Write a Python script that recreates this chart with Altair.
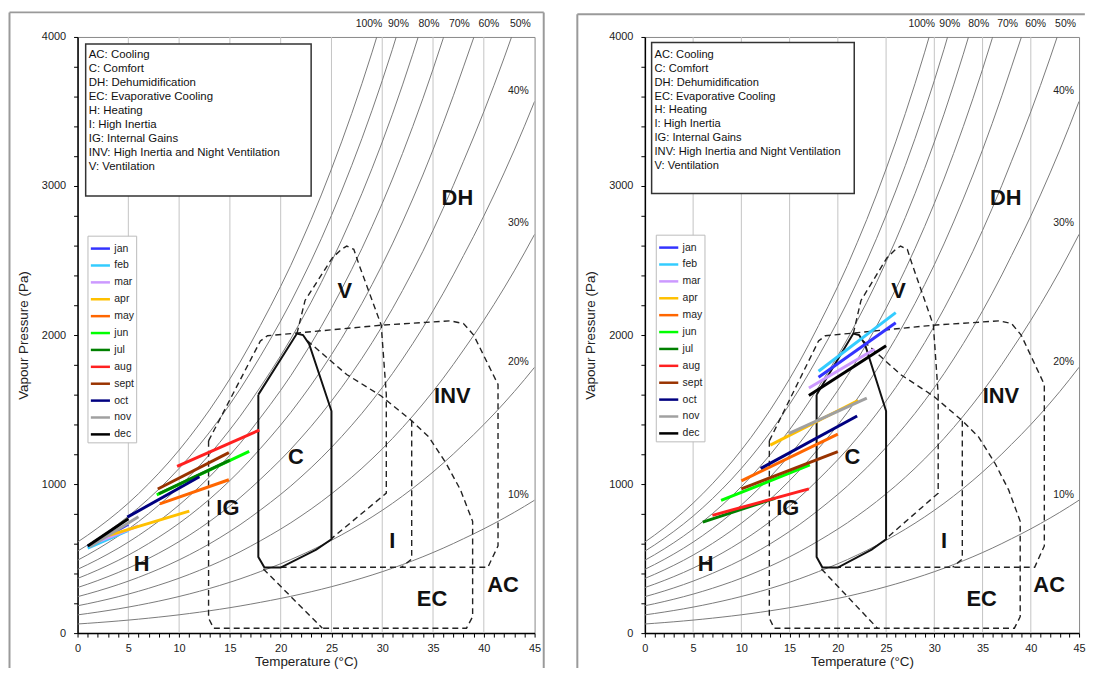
import altair as alt
import pandas as pd

FONT = "Liberation Sans"

# 100% curve (vapour pressure at saturation, Pa) as drawn on the chart, per degC
SAT_T = list(range(0, 46))
SAT_P = [611, 657, 706, 758, 813, 872, 935, 1002, 1073, 1148, 1228, 1313, 1403, 1498,
         1599, 1706, 1818, 1938, 2064, 2193, 2327, 2468, 2619, 2775, 2940, 3114, 3296,
         3487, 3687, 3898, 4119, 4352, 4598, 4855, 5123, 5405, 5700, 6009, 6332, 6657,
         6996, 7350, 7719, 8102, 8503, 8919]
RH_LEVELS = [10, 20, 30, 40, 50, 60, 70, 80, 90, 100]
GRID_T = [5, 10, 15, 20, 25, 30, 35, 40]

# RH labels
TOP_LABELS = ["100%", "90%", "80%", "70%", "60%", "50%"]
TOP_LABEL_T = [28.7, 31.6, 34.6, 37.6, 40.5, 43.6]
TOP_LABEL_P = [4084, 4084, 4084, 4084, 4084, 4084]
SIDE_LABELS = ["40%", "30%", "20%", "10%"]
SIDE_LABEL_T = [43.4, 43.4, 43.4, 43.4]
SIDE_LABEL_P = [3640, 2750, 1820, 925]

# zone labels
ZONE_NAMES = ["DH", "V", "INV", "C", "IG", "I", "H", "EC", "AC"]
ZONE_T = [37.4, 26.3, 36.9, 21.5, 14.8, 31.0, 6.3, 34.9, 41.9]
ZONE_P = [2920, 2292, 1590, 1180, 836, 620, 463, 228, 320]

DESCRIPTIONS = ["AC: Cooling", "C: Comfort", "DH: Dehumidification", "EC: Evaporative Cooling",
                "H: Heating", "I: High Inertia", "IG: Internal Gains",
                "INV: High Inertia and Night Ventilation", "V: Ventilation"]

# comfort zone (solid)
C_T = [17.8, 21.6, 22.2, 22.8, 25.0, 25.0, 23.5, 20.0, 18.4, 17.8, 17.8]
C_P = [1600, 2010, 2000, 1940, 1490, 630, 560, 440, 440, 510, 1600]

# dashed zone boundaries
PATH1_T = [12.9, 18.0, 18.7, 29.9, 36.7, 38.0, 39.0, 41.4, 41.4, 40.4, 20.0]
PATH1_P = [1290, 1960, 1995, 2066, 2095, 2077, 2000, 1668, 585, 442, 442]
PATH2_T = [12.9, 12.9, 13.4, 38.3, 38.9, 38.9, 37.7, 36.3, 34.6, 32.9, 29.9, 26.5, 22.4]
PATH2_P = [1290, 100, 33, 33, 110, 750, 961, 1138, 1315, 1425, 1591, 1735, 1975]
PATH3_T = [21.6, 22.4, 25.1, 26.0, 26.5, 27.2, 27.7, 29.9, 30.4, 30.4, 25.0]
PATH3_P = [2010, 2232, 2519, 2575, 2597, 2575, 2475, 2066, 1602, 939, 634]
PATH4_T = [32.9, 32.9, 31.9]
PATH4_P = [1425, 497, 442]
PATH5_T = [18.3, 24.1]
PATH5_P = [430, 33]

MONTHS = ["jan", "feb", "mar", "apr", "may", "jun", "jul", "aug", "sept", "oct", "nov", "dec"]
MONTH_COLORS = ["#3333FF", "#33CCFF", "#CC99FF", "#FFC000", "#FF6600", "#00FF00",
                "#008000", "#FF2020", "#993300", "#000080", "#A0A0A0", "#000000"]

# left chart month lines (start / end)
L_T0 = [1.0, 1.0, 1.5, 2.5, 8.1, 7.8, 8.0, 9.8, 7.9, 4.9, 1.2, 1.0]
L_P0 = [580, 570, 600, 644, 867, 927, 935, 1118, 967, 778, 580, 585]
L_T1 = [5.0, 5.0, 6.0, 11.0, 14.9, 16.9, 15.0, 17.9, 14.9, 12.0, 6.0, 5.0]
L_P1 = [730, 690, 720, 818, 1029, 1220, 1160, 1362, 1211, 1049, 780, 767]

# right chart month lines (start / end)
R_T0 = [18.0, 18.0, 17.0, 13.0, 10.0, 7.9, 6.0, 7.0, 10.0, 12.0, 14.9, 17.0]
R_P0 = [1717, 1757, 1645, 1261, 1021, 890, 745, 790, 968, 1105, 1339, 1595]
R_T1 = [26.0, 26.0, 23.8, 22.1, 20.0, 17.1, 13.5, 17.0, 20.0, 22.0, 23.0, 25.0]
R_P1 = [2083, 2150, 1905, 1561, 1335, 1128, 905, 968, 1217, 1457, 1577, 1928]


def make_tables():
    rh_rows = []
    for rh in RH_LEVELS:
        for t, p in zip(SAT_T, SAT_P):
            rh_rows.append({"rh": rh, "T": t, "P": p * rh / 100.0})
    rh_df = pd.DataFrame(rh_rows)
    zone_rows = []
    for name, ts, ps in [("p1", PATH1_T, PATH1_P), ("p2", PATH2_T, PATH2_P),
                         ("p3", PATH3_T, PATH3_P), ("p4", PATH4_T, PATH4_P),
                         ("p5", PATH5_T, PATH5_P)]:
        for i, (t, p) in enumerate(zip(ts, ps)):
            zone_rows.append({"zone": name, "seq": i, "T": t, "P": p})
    dash_df = pd.DataFrame(zone_rows)
    c_df = pd.DataFrame({"seq": list(range(len(C_T))), "T": C_T, "P": C_P})
    return rh_df, dash_df, c_df


RH_DF, DASH_DF, C_DF = make_tables()


def fl_fr(fl, fr):
    return [fl] if fr is None else [fl, fr]


def panel(t0, p0, t1, p1, width, box, text_top, text_step, text_size, leg_x, leg_y, frame):
    xs = alt.Scale(domain=[0, 45], nice=False, zero=False)
    ys = alt.Scale(domain=[0, 4000], nice=False, zero=False)
    xaxis = alt.Axis(values=list(range(0, 46)), labelExpr="datum.value % 5 === 0 ? datum.label : ''",
                     title="Temperature (°C)", grid=False, tickSize=4, tickColor="#000",
                     domainColor="#000", domainWidth=1.5, labelFontSize=11, titleFontSize=13.5,
                     titleFontWeight="normal", labelFont=FONT, titleFont=FONT, labelFlush=False,
                     labelColor="#222", titleColor="#222", titlePadding=1, labelPadding=6)
    yaxis = alt.Axis(values=list(range(0, 4001, 200)), format="d",
                     labelExpr="datum.value % 1000 === 0 ? datum.label : ''",
                     title="Vapour Pressure (Pa)", grid=False, tickSize=4, tickColor="#000",
                     domainColor="#000", domainWidth=1.5, labelFontSize=11, titleFontSize=13.5,
                     titleFontWeight="normal", labelFont=FONT, titleFont=FONT, labelFlush=False,
                     labelColor="#222", titleColor="#222", titlePadding=11, labelPadding=8)
    X = alt.X("T:Q", scale=xs, axis=xaxis)
    Y = alt.Y("P:Q", scale=ys, axis=yaxis)

    fl, fr, ft, fb = frame
    vx = fl_fr(fl, fr)
    vframe = alt.Chart(pd.DataFrame({"T": vx, "P": [ft] * len(vx), "P2": [fb] * len(vx)})).mark_rule(
        color="#9a9a9a", strokeWidth=2).encode(x=X, y=Y, y2="P2:Q")
    hframe = alt.Chart(pd.DataFrame({"T": [fl], "T2": [fr if fr is not None else 45.6], "P": [ft]})).mark_rule(
        color="#9a9a9a", strokeWidth=2).encode(x=X, x2="T2:Q", y=Y)

    grid = alt.Chart(pd.DataFrame({"T": GRID_T})).mark_rule(color="#c4c4c4", strokeWidth=1).encode(x=X)

    rh = alt.Chart(RH_DF).mark_line(clip=True, color="#7a7a7a", strokeWidth=1).encode(
        x=X, y=Y, detail="rh:N", order="T:Q")

    dashed = alt.Chart(DASH_DF).mark_line(color="#222", strokeWidth=1.4, strokeDash=[6, 4]).encode(
        x=X, y=Y, detail="zone:N", order="seq:Q")

    comfort = alt.Chart(C_DF).mark_line(color="#111", strokeWidth=2).encode(x=X, y=Y, order="seq:Q")

    mrows = []
    for m, a, b, c, d in zip(MONTHS, t0, p0, t1, p1):
        mrows.append({"month": m, "T": a, "P": b, "seq": 0})
        mrows.append({"month": m, "T": c, "P": d, "seq": 1})
    months = alt.Chart(pd.DataFrame(mrows)).mark_line(strokeWidth=3).encode(
        x=X, y=Y, order="seq:Q",
        color=alt.Color("month:N", scale=alt.Scale(domain=MONTHS, range=MONTH_COLORS),
                        legend=alt.Legend(orient="none", legendX=leg_x, legendY=leg_y, title=None,
                                          symbolType="stroke", symbolStrokeWidth=2.5,
                                          symbolSize=370, rowPadding=0, labelFontSize=10.5,
                                          labelFont=FONT, labelColor="#222", fillColor="white",
                                          strokeColor="#bbbbbb", padding=2, labelOffset=3)))

    zl = alt.Chart(pd.DataFrame({"T": ZONE_T, "P": ZONE_P, "label": ZONE_NAMES})).mark_text(
        font=FONT, fontSize=22, fontWeight="bold", color="#111").encode(x=X, y=Y, text="label:N")

    bx = alt.Chart(pd.DataFrame({"T": [box[0]], "T2": [box[1]], "P": [box[2]], "P2": [box[3]]})).mark_rect(
        fill="white", stroke="#333", strokeWidth=1.5).encode(x=X, x2="T2:Q", y=Y, y2="P2:Q")

    desc_df = pd.DataFrame({"T": [box[0] + 0.3] * len(DESCRIPTIONS),
                            "P": [text_top - i * text_step for i in range(len(DESCRIPTIONS))],
                            "label": DESCRIPTIONS})
    desc = alt.Chart(desc_df).mark_text(font=FONT, fontSize=text_size, align="left", baseline="middle",
                                        color="#111").encode(x=X, y=Y, text="label:N")

    top = alt.Chart(pd.DataFrame({"T": TOP_LABEL_T, "P": TOP_LABEL_P, "label": TOP_LABELS})).mark_text(
        font=FONT, fontSize=10.5, color="#222").encode(x=X, y=Y, text="label:N")
    side = alt.Chart(pd.DataFrame({"T": SIDE_LABEL_T, "P": SIDE_LABEL_P, "label": SIDE_LABELS})).mark_text(
        font=FONT, fontSize=10.5, color="#222").encode(x=X, y=Y, text="label:N")

    return alt.layer(vframe, hframe, grid, rh, dashed, comfort, months, zl, bx, desc, top, side).properties(
        width=width, height=600)


left = panel(L_T0, L_P0, L_T1, L_P1, 460, (0.8, 23.0, 3953, 2933), 3880, 94, 11.5, 10, 200,
             (-6.7, 45.9, 4165, -235))
right = panel(R_T0, R_P0, R_T1, R_P1, 437, (0.7, 21.7, 3963, 2950), 3877, 92.5, 11.2, 11, 199,
              (-7.0, None, 4152, -235))

chart = alt.hconcat(left, right, spacing=30).resolve_scale(color="independent").configure_view(
    stroke="#888", strokeWidth=1).properties(padding={"left": 0, "top": 0, "right": 0, "bottom": 0},
                                             background="white")

chart.save("out.html", embed_options={"renderer": "svg", "actions": False})
